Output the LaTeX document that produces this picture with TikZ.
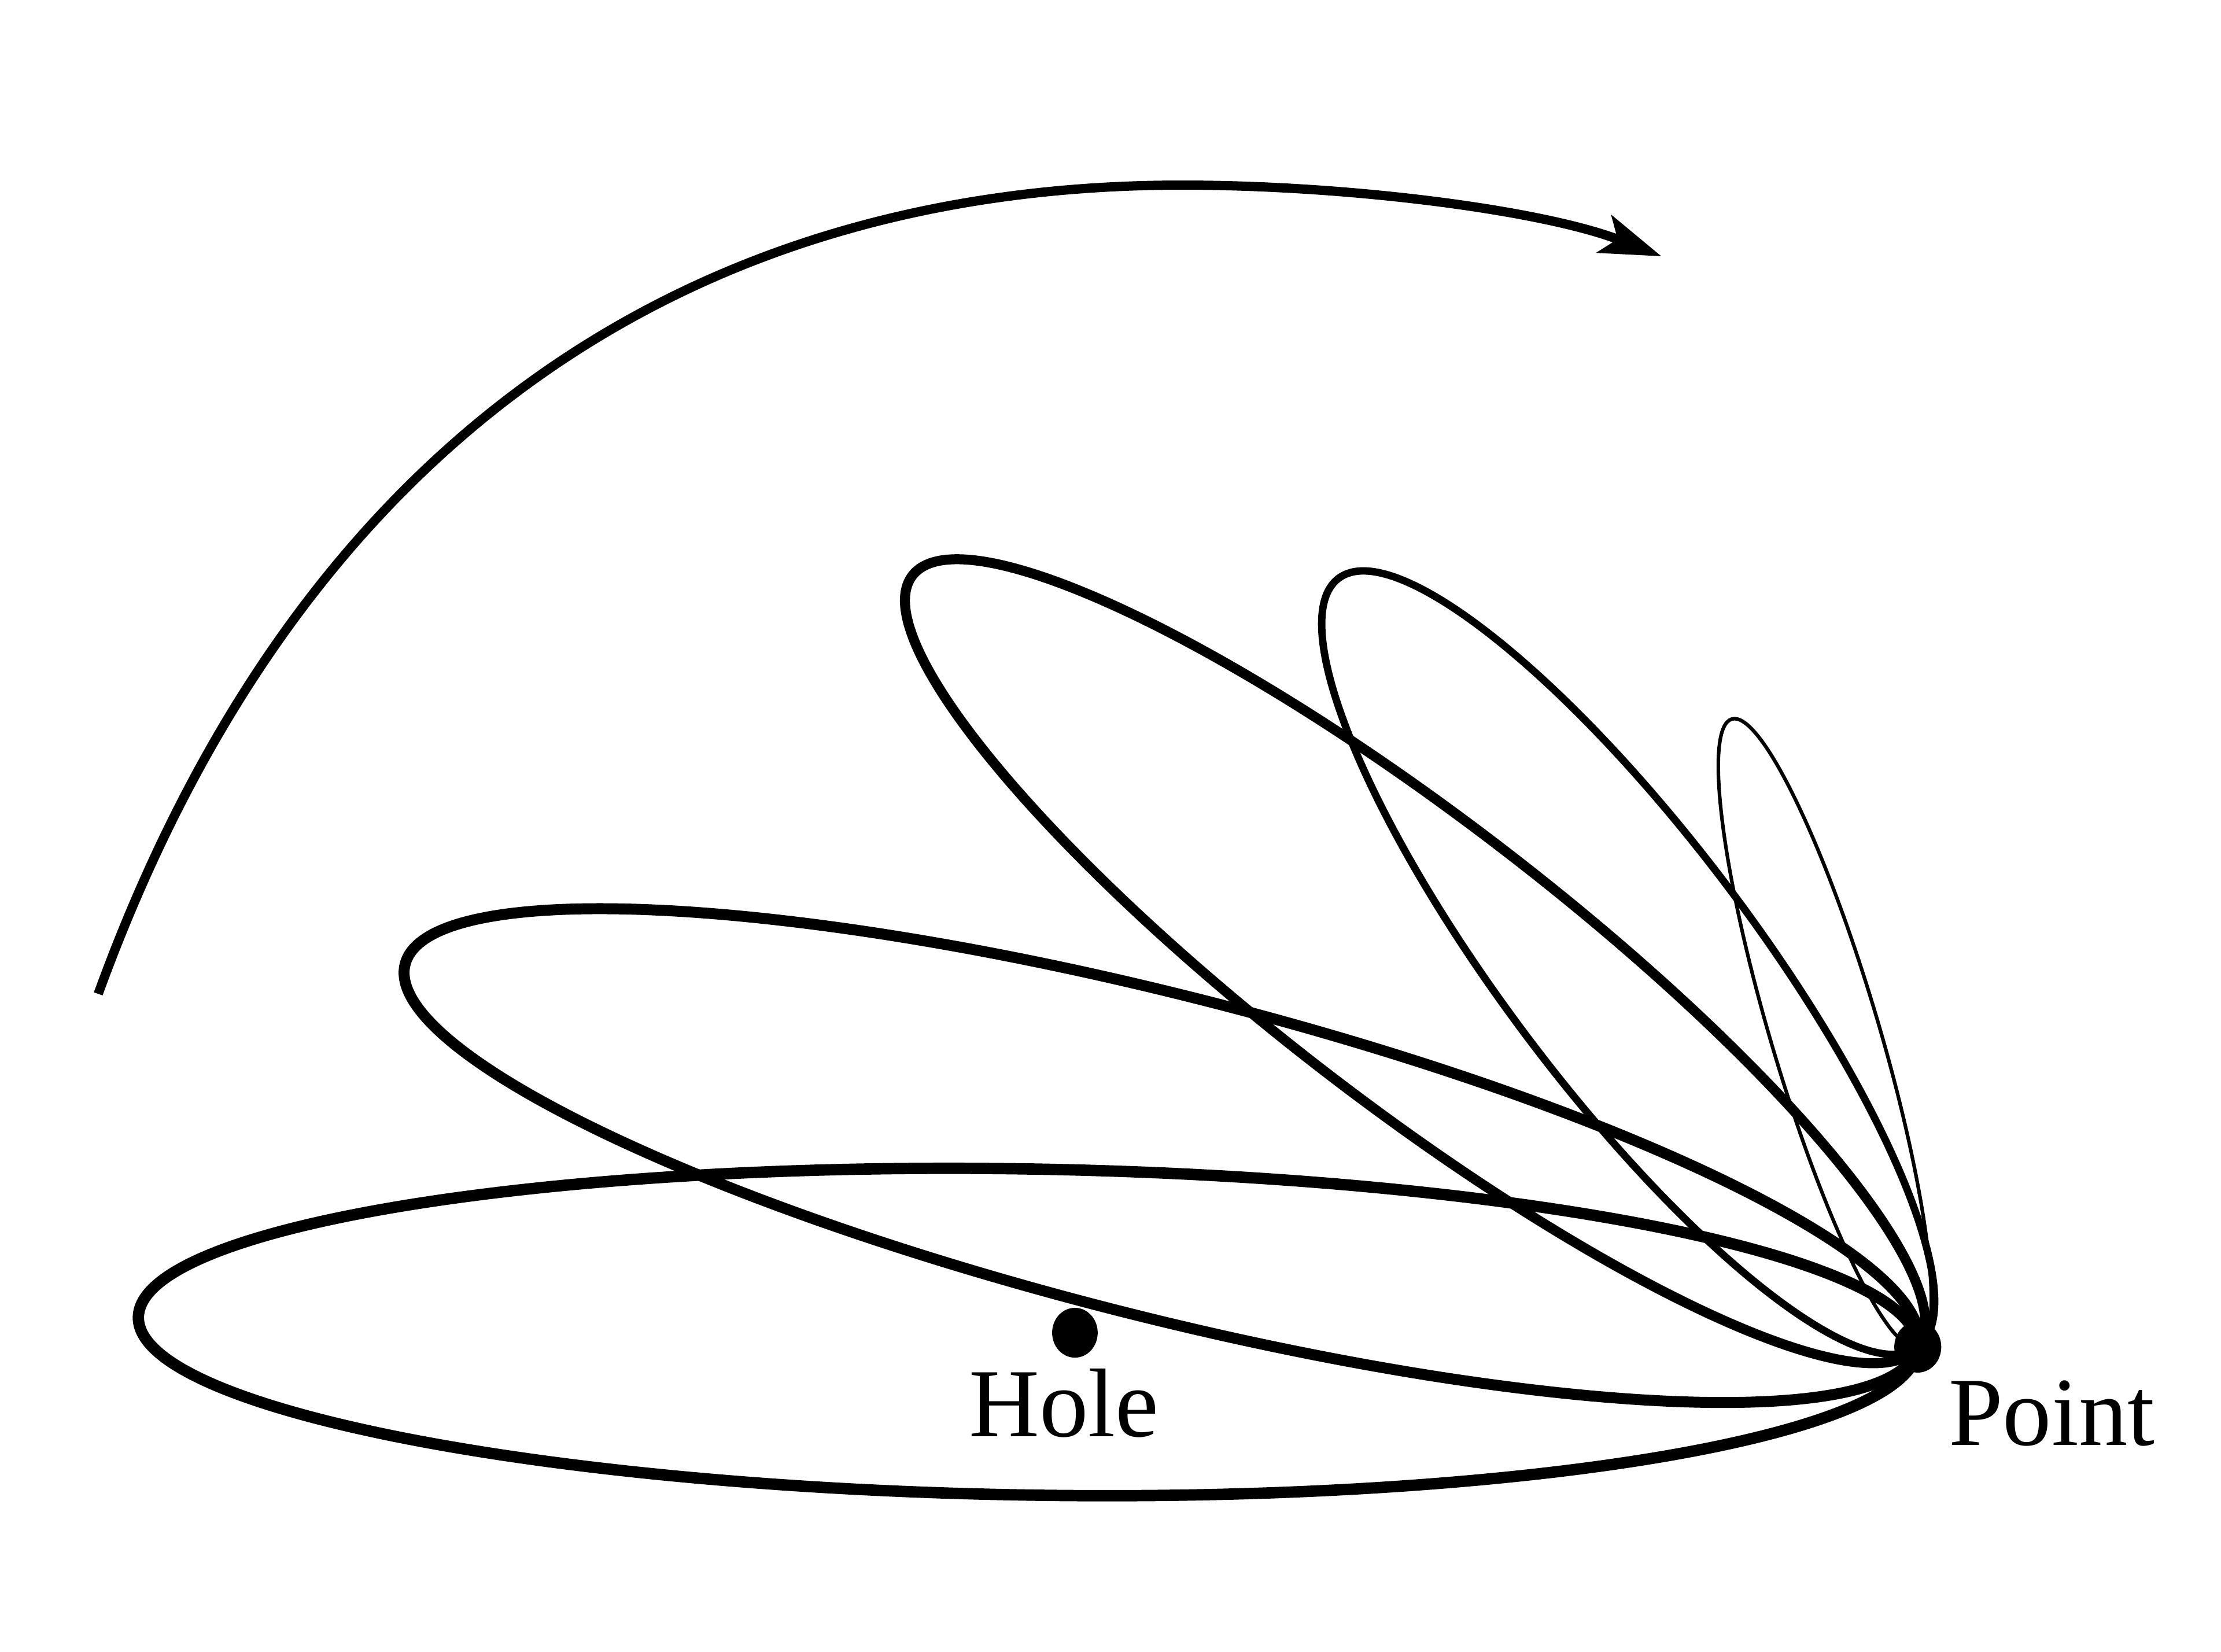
\documentclass[tikz,border=0pt]{standalone}
\usepackage{fontspec}
\setmainfont{Liberation Serif}
\usetikzlibrary{arrows.meta}
\begin{document}
\begin{tikzpicture}[x=0.01cm,y=-0.01cm,
  orbit/.style={draw=black, line width=#1},
  sweep/.style={draw=black, line width=0.065cm,
    -{Stealth[length=0.43cm,width=0.28cm,inset=0.1cm]}},
  dot/.style={fill=black},
  lbl/.style={inner sep=0pt, anchor=base west, font=\fontsize{19.5pt}{22pt}\selectfont}]
\fill[white] (0,0) rectangle (1560,1160);
\useasboundingbox (0,0) rectangle (1560,1160);

% sweep arrow
\coordinate (arcS) at (69,698);
\coordinate (arcT) at (830,130);
\coordinate (arcE) at (1167,180);
\draw[sweep] (arcS) .. controls (212.6,303.2) and (490,130) .. (arcT)
  .. controls (950,130) and (1085,148) .. (arcE);

% orbits through the point
\draw[orbit=0.08cm, shift={(722.1,935.5)}, rotate=-0.96] (0,0) ellipse [x radius=625, y radius=114.5];
\draw[orbit=0.077cm, shift={(815.8,811.6)}, rotate=-14.2] (0,0) ellipse [x radius=548, y radius=113];
\draw[orbit=0.07cm, shift={(993.9,675.1)}, rotate=-37.5] (0,0) ellipse [x radius=445, y radius=100];
\draw[orbit=0.052cm, shift={(1143.6,676.1)}, rotate=-53] (0,0) ellipse [x radius=338, y radius=88];
\draw[orbit=0.025cm, shift={(1281.7,725.5)}, rotate=-73.5] (0,0) ellipse [x radius=230, y radius=38];

% dots
\coordinate (H) at (755,936);
\coordinate (P) at (1347,946);
\fill[dot] (H) ellipse [x radius=16, y radius=17.5];
\fill[dot] (P) ellipse [x radius=16.5, y radius=18];

% labels
\node[lbl] (holelbl) at (680,1009) {Hole};
\node[lbl] (pointlbl) at (1368,1015) {Point};
\end{tikzpicture}
\end{document}
